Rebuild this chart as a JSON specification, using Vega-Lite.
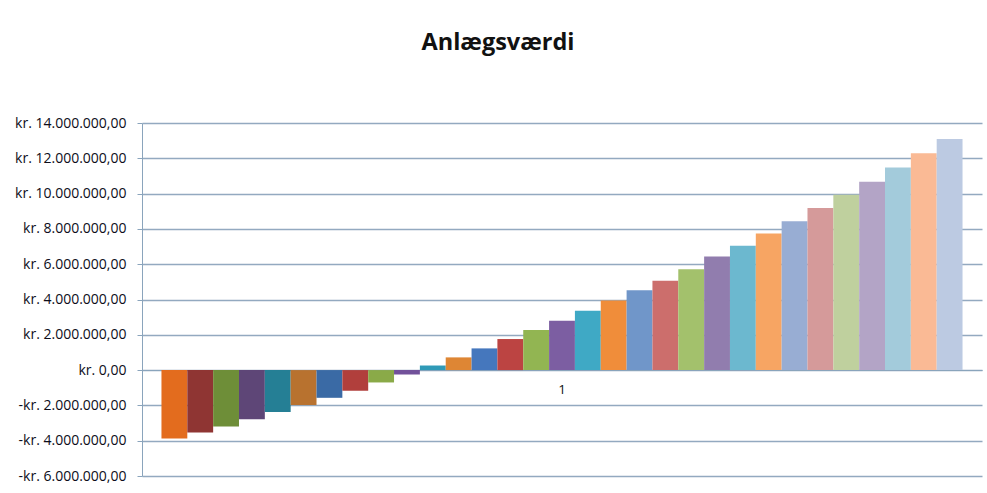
{
  "$schema": "https://vega.github.io/schema/vega-lite/v6.json",
  "width": 840,
  "height": 353,
  "autosize": {"type": "none"},
  "padding": {"left": 142, "top": 123, "right": 5, "bottom": 17},
  "background": "white",
  "title": {
    "text": "Anlægsværdi",
    "font": "Open Sans",
    "fontSize": 23.5,
    "fontWeight": "bold",
    "color": "#111111",
    "anchor": "middle",
    "frame": "group",
    "dx": -64,
    "baseline": "alphabetic",
    "offset": 43
  },
  "data": {
    "values": [
      {"category": "1", "series": 1, "value": -3870000},
      {"category": "1", "series": 2, "value": -3530000},
      {"category": "1", "series": 3, "value": -3190000},
      {"category": "1", "series": 4, "value": -2790000},
      {"category": "1", "series": 5, "value": -2380000},
      {"category": "1", "series": 6, "value": -1980000},
      {"category": "1", "series": 7, "value": -1570000},
      {"category": "1", "series": 8, "value": -1170000},
      {"category": "1", "series": 9, "value": -700000},
      {"category": "1", "series": 10, "value": -250000},
      {"category": "1", "series": 11, "value": 260000},
      {"category": "1", "series": 12, "value": 720000},
      {"category": "1", "series": 13, "value": 1230000},
      {"category": "1", "series": 14, "value": 1760000},
      {"category": "1", "series": 15, "value": 2270000},
      {"category": "1", "series": 16, "value": 2790000},
      {"category": "1", "series": 17, "value": 3360000},
      {"category": "1", "series": 18, "value": 3950000},
      {"category": "1", "series": 19, "value": 4530000},
      {"category": "1", "series": 20, "value": 5060000},
      {"category": "1", "series": 21, "value": 5720000},
      {"category": "1", "series": 22, "value": 6440000},
      {"category": "1", "series": 23, "value": 7040000},
      {"category": "1", "series": 24, "value": 7740000},
      {"category": "1", "series": 25, "value": 8440000},
      {"category": "1", "series": 26, "value": 9180000},
      {"category": "1", "series": 27, "value": 9930000},
      {"category": "1", "series": 28, "value": 10670000},
      {"category": "1", "series": 29, "value": 11480000},
      {"category": "1", "series": 30, "value": 12290000},
      {"category": "1", "series": 31, "value": 13090000}
    ]
  },
  "mark": {"type": "bar", "strokeWidth": 0},
  "encoding": {
    "x": {
      "field": "category",
      "type": "nominal",
      "scale": {"paddingInner": 0, "paddingOuter": 0.0243},
      "axis": {
        "title": null,
        "labelAngle": 0,
        "offset": -106,
        "ticks": false,
        "labelPadding": 12,
        "labelFont": "Open Sans",
        "labelFontSize": 13.5,
        "labelColor": "#111111",
        "domainColor": "#8aa4bc",
        "domainWidth": 1.2,
        "grid": false
      }
    },
    "xOffset": {
      "field": "series",
      "type": "ordinal",
      "scale": {"paddingInner": 0, "paddingOuter": 0}
    },
    "y": {
      "field": "value",
      "type": "quantitative",
      "scale": {"domain": [-6000000, 14000000], "nice": false, "zero": false},
      "axis": {
        "title": null,
        "values": [-6000000, -4000000, -2000000, 0, 2000000, 4000000, 6000000, 8000000, 10000000, 12000000, 14000000],
        "labelExpr": "(datum.value < 0 ? '-kr. ' : 'kr. ') + (datum.value == 0 ? '0,00' : replace(format(abs(datum.value), ',.0f'), /,/g, '.') + ',00')",
        "labelFont": "Open Sans",
        "labelFontSize": 14,
        "labelFontWeight": 500,
        "labelColor": "#0d0d1a",
        "labelPadding": 11,
        "tickSize": 5,
        "tickColor": "#8aa4bc",
        "domainColor": "#8aa4bc",
        "grid": true,
        "gridColor": "#93a9c0",
        "gridWidth": 1.3
      }
    },
    "color": {
      "field": "series",
      "type": "ordinal",
      "legend": null,
      "scale": {
        "domain": [1,2,3,4,5,6,7,8,9,10,11,12,13,14,15,16,17,18,19,20,21,22,23,24,25,26,27,28,29,30,31],
        "range": ["#E36C1E","#8F3533","#6E8E38","#5E4677","#257F95","#B8722F","#3A6AA5","#B13F3C","#8AAA48","#72519A","#2F9AB7","#DE8634","#4577BD","#BC4442","#92B552","#7C5EA2","#3FA9C5","#F08D3A","#7096C9","#CC6E6C","#A3C16C","#917DAE","#6CB8CF","#F7A563","#98ADD3","#D59A9A","#BFD09E","#B3A4C6","#A3CBDB","#FABA95","#BCCAE2"]
      }
    }
  },
  "config": {
    "view": {"stroke": null}
  }
}
